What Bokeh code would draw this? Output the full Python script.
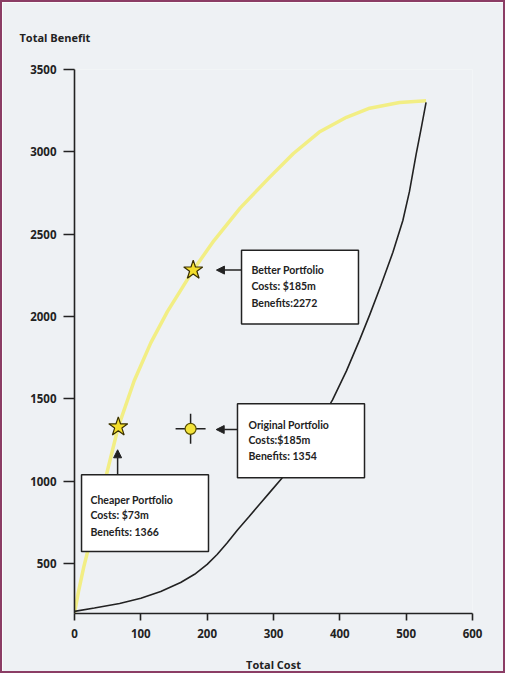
from bokeh.plotting import figure
from bokeh.models import Range1d, FixedTicker, Arrow, NormalHead
from bokeh.core.properties import value
from bokeh.embed import file_html
from bokeh.resources import INLINE

# ---- data ----
frontier_cost = [0, 6, 14, 24, 36, 50, 66, 90, 115, 140, 179, 210, 250, 294, 330, 369, 410, 445, 490, 530]
frontier_benefit = [200, 330, 480, 640, 840, 1070, 1330, 1610, 1840, 2030, 2282, 2460, 2660, 2845, 2990, 3120, 3210, 3265, 3300, 3310]

worst_cost = [0, 30, 68, 100, 130, 160, 181, 200, 215, 230, 246, 263, 280, 296, 312, 330, 350, 368, 389, 410, 430, 445, 462, 480, 495, 505, 515, 523, 530]
worst_benefit = [210, 230, 258, 290, 330, 385, 435, 495, 555, 625, 706, 785, 865, 940, 1015, 1115, 1230, 1350, 1494, 1670, 1860, 2010, 2190, 2390, 2583, 2760, 2985, 3150, 3300]

star_cost = [66, 179]
star_benefit = [1330, 2282]
orig_cost = [175]
orig_benefit = [1318]

x_ticks = [0, 100, 200, 300, 400, 500, 600]
y_ticks = [500, 1000, 1500, 2000, 2500, 3000, 3500]

# annotation boxes (data units): left, right, top, bottom
box_left = [251.8, 245.7, 10.6]
box_right = [428.1, 437.2, 202.0]
box_top = [2403, 1470, 1039]
box_bottom = [1955, 1021, 573]

titles = ["Better Portfolio", "Original  Portfolio", "Cheaper  Portfolio"]
title_x = [266.8, 262.3, 24.1]
title_y = [2282, 1342, 888]
costs_txt = ["Costs: $185m", "Costs:$185m", "Costs: $73m"]
costs_y = [2185, 1251, 797]
ben_txt = ["Benefits:2272", "Benefits: 1354", "Benefits: 1366"]
ben_y = [2082, 1155, 694]

# arrows: start -> end
arr_x0 = [252, 245.7, 65]
arr_y0 = [2282, 1314, 1039]
arr_x1 = [214, 213.6, 65]
arr_y1 = [2282, 1314, 1191]

FONT = "Open Sans"
BOX_FONT = "Lato"
BG = "#eef1f4"
INK = "#222222"

p = figure(width=505, height=673, output_backend="svg", toolbar_location=None,
           x_range=Range1d(0, 600), y_range=Range1d(197, 3500),
           min_border_left=72, min_border_right=35, min_border_top=66, min_border_bottom=62,
           title="Total Benefit")
p.styles = {"border": "2px solid #8b3d65", "box-sizing": "border-box"}
p.background_fill_color = BG
p.border_fill_color = BG
p.outline_line_color = None
p.grid.visible = False

p.title.text_font = FONT
p.title.text_font_size = "11px"
p.title.text_font_style = "bold"
p.title.text_color = INK
p.title.align = "left"
p.title.offset = -55
p.title.standoff = 50

for ax in (p.xaxis[0], p.yaxis[0]):
    ax.axis_line_color = INK
    ax.axis_line_width = 1.6
    ax.major_tick_line_color = INK
    ax.major_tick_line_width = 1.6
    ax.minor_tick_line_color = None
    ax.major_tick_in = 0
    ax.major_label_text_font = FONT
    ax.major_label_text_font_size = "11.5px"
    ax.major_label_text_font_style = "bold"
    ax.major_label_text_color = INK

p.xaxis.ticker = FixedTicker(ticks=x_ticks)
p.yaxis.ticker = FixedTicker(ticks=y_ticks)
p.xaxis.major_tick_out = 7
p.yaxis.major_tick_out = 11
p.xaxis.major_label_standoff = 8
p.yaxis.major_label_standoff = 7
p.xaxis.axis_label = "Total Cost"
p.xaxis.axis_label_text_font = FONT
p.xaxis.axis_label_text_font_size = "11px"
p.xaxis.axis_label_text_font_style = "bold"
p.xaxis.axis_label_text_color = INK
p.xaxis.axis_label_standoff = 16

# curves
p.line(frontier_cost, frontier_benefit, line_color="#f2ee84", line_width=3.5)
p.line(worst_cost, worst_benefit, line_color=INK, line_width=1.6)

# annotation boxes
p.quad(left=box_left, right=box_right, top=box_top, bottom=box_bottom,
       fill_color="white", line_color=INK, line_width=1.5)
for ys, txt in ((title_y, titles), (costs_y, costs_txt), (ben_y, ben_txt)):
    p.text(title_x, ys, text=txt, text_font=value(BOX_FONT), text_font_size="10.5px",
           text_font_style="bold", text_color=INK, text_baseline="middle")

for x0, y0, x1, y1 in zip(arr_x0, arr_y0, arr_x1, arr_y1):
    p.add_layout(Arrow(x_start=x0, y_start=y0, x_end=x1, y_end=y1, line_color=INK, line_width=1.5,
                       end=NormalHead(size=8, fill_color=INK, line_color=INK)))

# markers
p.scatter(orig_cost, orig_benefit, marker="cross", size=30, line_color=INK, line_width=1.5)
p.scatter(orig_cost, orig_benefit, marker="circle", size=11, fill_color="#f3e33a", line_color="#5a5000", line_width=1.2)
p.scatter(star_cost, star_benefit, marker="star", size=20, fill_color="#f3de2c", line_color="#3a3000", line_width=1.2)

open("out.html", "w").write(file_html(p, INLINE))
